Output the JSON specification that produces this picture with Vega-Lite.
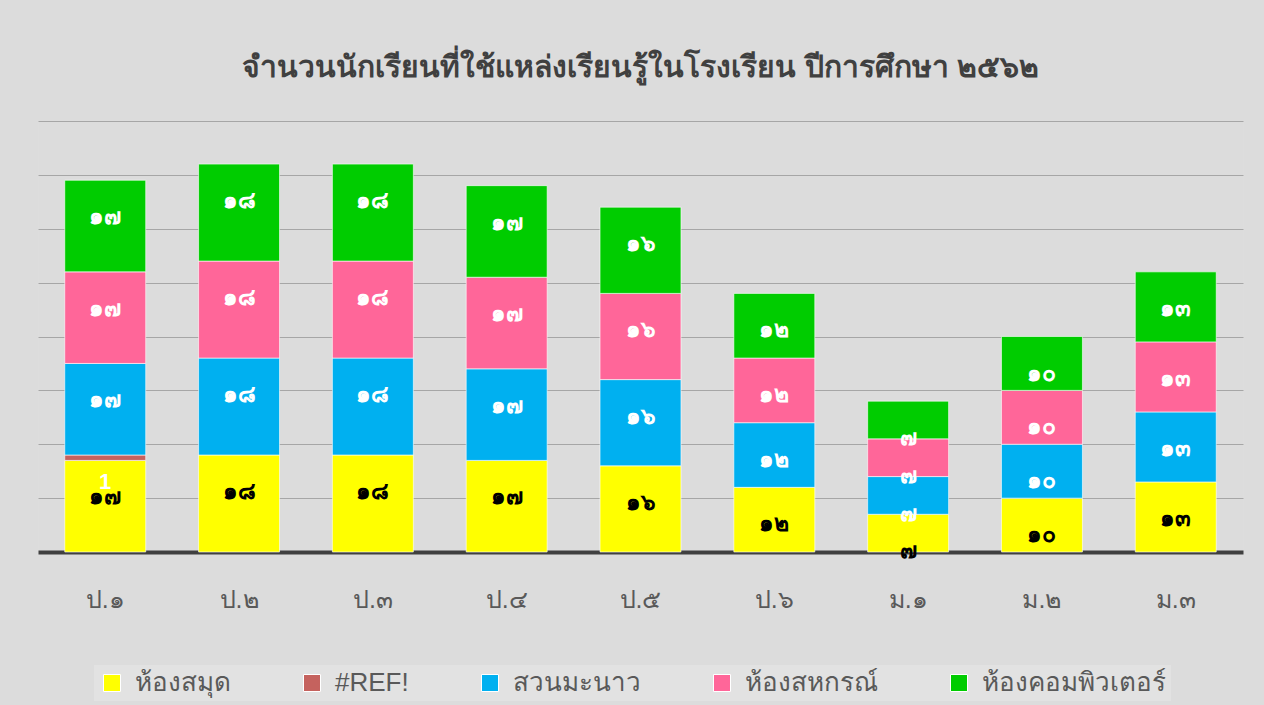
{
  "$schema": "https://vega.github.io/schema/vega-lite/v6.json",
  "autosize": {"type": "none"},
  "width": 1205,
  "height": 431,
  "padding": {"left": 38, "top": 121, "right": 21, "bottom": 153},
  "background": "#dcdcdc",
  "title": {
    "text": "จำนวนนักเรียนที่ใช้แหล่งเรียนรู้ในโรงเรียน ปีการศึกษา ๒๕๖๒",
    "fontSize": 30,
    "fontWeight": "bold",
    "color": "#404040",
    "anchor": "middle",
    "offset": 38
  },
  "data": {
    "values": [
      {"grade": "ป.๑", "series": "ห้องสมุด", "order": 1, "value": 17, "label": "๑๗"},
      {"grade": "ป.๑", "series": "#REF!", "order": 2, "value": 1, "label": "1"},
      {"grade": "ป.๑", "series": "สวนมะนาว", "order": 3, "value": 17, "label": "๑๗"},
      {"grade": "ป.๑", "series": "ห้องสหกรณ์", "order": 4, "value": 17, "label": "๑๗"},
      {"grade": "ป.๑", "series": "ห้องคอมพิวเตอร์", "order": 5, "value": 17, "label": "๑๗"},
      {"grade": "ป.๒", "series": "ห้องสมุด", "order": 1, "value": 18, "label": "๑๘"},
      {"grade": "ป.๒", "series": "สวนมะนาว", "order": 3, "value": 18, "label": "๑๘"},
      {"grade": "ป.๒", "series": "ห้องสหกรณ์", "order": 4, "value": 18, "label": "๑๘"},
      {"grade": "ป.๒", "series": "ห้องคอมพิวเตอร์", "order": 5, "value": 18, "label": "๑๘"},
      {"grade": "ป.๓", "series": "ห้องสมุด", "order": 1, "value": 18, "label": "๑๘"},
      {"grade": "ป.๓", "series": "สวนมะนาว", "order": 3, "value": 18, "label": "๑๘"},
      {"grade": "ป.๓", "series": "ห้องสหกรณ์", "order": 4, "value": 18, "label": "๑๘"},
      {"grade": "ป.๓", "series": "ห้องคอมพิวเตอร์", "order": 5, "value": 18, "label": "๑๘"},
      {"grade": "ป.๔", "series": "ห้องสมุด", "order": 1, "value": 17, "label": "๑๗"},
      {"grade": "ป.๔", "series": "สวนมะนาว", "order": 3, "value": 17, "label": "๑๗"},
      {"grade": "ป.๔", "series": "ห้องสหกรณ์", "order": 4, "value": 17, "label": "๑๗"},
      {"grade": "ป.๔", "series": "ห้องคอมพิวเตอร์", "order": 5, "value": 17, "label": "๑๗"},
      {"grade": "ป.๕", "series": "ห้องสมุด", "order": 1, "value": 16, "label": "๑๖"},
      {"grade": "ป.๕", "series": "สวนมะนาว", "order": 3, "value": 16, "label": "๑๖"},
      {"grade": "ป.๕", "series": "ห้องสหกรณ์", "order": 4, "value": 16, "label": "๑๖"},
      {"grade": "ป.๕", "series": "ห้องคอมพิวเตอร์", "order": 5, "value": 16, "label": "๑๖"},
      {"grade": "ป.๖", "series": "ห้องสมุด", "order": 1, "value": 12, "label": "๑๒"},
      {"grade": "ป.๖", "series": "สวนมะนาว", "order": 3, "value": 12, "label": "๑๒"},
      {"grade": "ป.๖", "series": "ห้องสหกรณ์", "order": 4, "value": 12, "label": "๑๒"},
      {"grade": "ป.๖", "series": "ห้องคอมพิวเตอร์", "order": 5, "value": 12, "label": "๑๒"},
      {"grade": "ม.๑", "series": "ห้องสมุด", "order": 1, "value": 7, "label": "๗"},
      {"grade": "ม.๑", "series": "สวนมะนาว", "order": 3, "value": 7, "label": "๗"},
      {"grade": "ม.๑", "series": "ห้องสหกรณ์", "order": 4, "value": 7, "label": "๗"},
      {"grade": "ม.๑", "series": "ห้องคอมพิวเตอร์", "order": 5, "value": 7, "label": "๗"},
      {"grade": "ม.๒", "series": "ห้องสมุด", "order": 1, "value": 10, "label": "๑๐"},
      {"grade": "ม.๒", "series": "สวนมะนาว", "order": 3, "value": 10, "label": "๑๐"},
      {"grade": "ม.๒", "series": "ห้องสหกรณ์", "order": 4, "value": 10, "label": "๑๐"},
      {"grade": "ม.๒", "series": "ห้องคอมพิวเตอร์", "order": 5, "value": 10, "label": "๑๐"},
      {"grade": "ม.๓", "series": "ห้องสมุด", "order": 1, "value": 13, "label": "๑๓"},
      {"grade": "ม.๓", "series": "สวนมะนาว", "order": 3, "value": 13, "label": "๑๓"},
      {"grade": "ม.๓", "series": "ห้องสหกรณ์", "order": 4, "value": 13, "label": "๑๓"},
      {"grade": "ม.๓", "series": "ห้องคอมพิวเตอร์", "order": 5, "value": 13, "label": "๑๓"}
    ]
  },
  "transform": [
    {"stack": "value", "groupby": ["grade"], "sort": [{"field": "order", "order": "ascending"}], "as": ["v0", "v1"]}
  ],
  "encoding": {
    "x": {
      "field": "grade",
      "type": "nominal",
      "sort": null,
      "scale": {"paddingInner": 0.395, "paddingOuter": 0.2},
      "axis": {
        "title": null,
        "labelAngle": 0,
        "labelFontSize": 25,
        "labelColor": "#595959",
        "labelPadding": 35,
        "ticks": false,
        "domainColor": "#404040",
        "domainWidth": 4,
        "grid": false
      }
    }
  },
  "layer": [
    {
      "mark": {"type": "bar", "stroke": "#ffffff", "strokeOpacity": 0.6, "strokeWidth": 1},
      "encoding": {
        "y": {
          "field": "v0",
          "type": "quantitative",
          "scale": {"domain": [0, 80], "nice": false},
          "axis": {
            "title": null,
            "labels": false,
            "ticks": false,
            "domain": false,
            "values": [10, 20, 30, 40, 50, 60, 70, 80],
            "gridColor": "#a6a6a6",
            "gridWidth": 1
          }
        },
        "y2": {"field": "v1"},
        "color": {
          "field": "series",
          "type": "nominal",
          "scale": {
            "domain": ["ห้องสมุด", "#REF!", "สวนมะนาว", "ห้องสหกรณ์", "ห้องคอมพิวเตอร์"],
            "range": ["#ffff00", "#c5625e", "#00b0f0", "#ff6699", "#00cc00"]
          },
          "legend": {
            "title": null,
            "orient": "none",
            "direction": "horizontal",
            "legendX": 56,
            "legendY": 544,
            "symbolType": "square",
            "symbolSize": 289,
            "symbolStrokeColor": "#ffffff",
            "symbolStrokeWidth": 1,
            "labelFontSize": 26,
            "labelColor": "#595959",
            "labelOffset": 10,
            "columnPadding": 68,
            "labelLimit": 400,
            "fillColor": "#e2e2e2",
            "padding": 5
          }
        }
      }
    },
    {
      "transform": [{"filter": "datum.series !== '#REF!'"}],
      "mark": {"type": "text", "baseline": "middle", "align": "center", "dy": 37, "fontSize": 23, "fontWeight": "bold"},
      "encoding": {
        "y": {"field": "v1", "type": "quantitative"},
        "text": {"field": "label"},
        "color": {
          "condition": {"test": "datum.series === 'ห้องสมุด'", "value": "#000000"},
          "value": "#ffffff"
        }
      }
    },
    {
      "transform": [{"filter": "datum.series === '#REF!'"}],
      "mark": {"type": "text", "baseline": "middle", "align": "center", "dy": 27, "fontSize": 22, "fontWeight": "bold", "color": "#ffffff"},
      "encoding": {
        "y": {"field": "v1", "type": "quantitative"},
        "text": {"field": "label"}
      }
    }
  ]
}
